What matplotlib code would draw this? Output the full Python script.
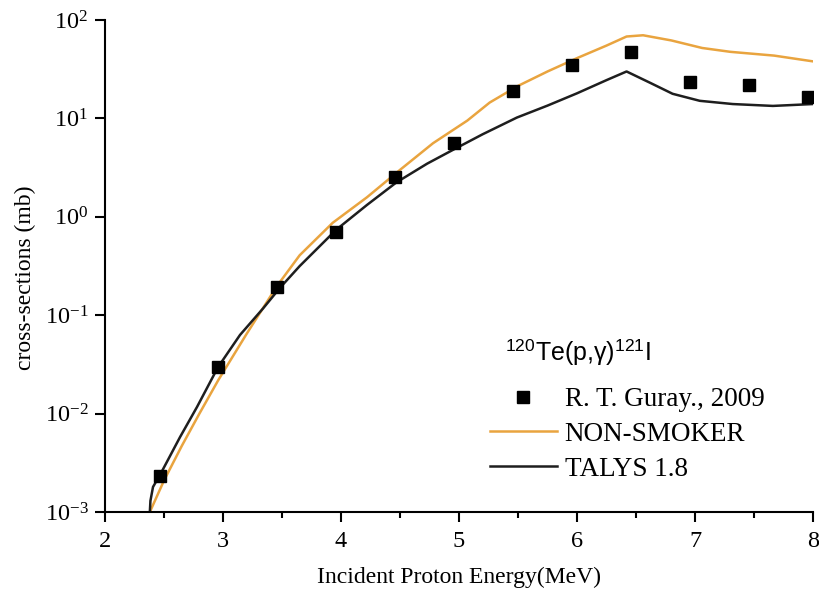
import numpy as np
import matplotlib.pyplot as plt

plt.rcParams['font.family'] = ['Liberation Serif', 'DejaVu Serif']
plt.rcParams['mathtext.fontset'] = 'custom'
plt.rcParams['mathtext.rm'] = 'Liberation Serif'
plt.rcParams['mathtext.it'] = 'Liberation Serif:italic'
plt.rcParams['mathtext.sf'] = 'Liberation Sans'

# measured points (R. T. Guray, 2009)
exp_e = [2.47, 2.96, 3.46, 3.96, 4.46, 4.96, 5.46, 5.96, 6.46, 6.96, 7.46, 7.96]
exp_cs = [0.0023, 0.030, 0.194, 0.70, 2.54, 5.6, 19.0, 35.0, 47.0, 23.4, 21.9, 16.5]

# NON-SMOKER curve
ns_e = [2.38, 2.5, 2.65, 2.8, 2.96, 3.2, 3.46, 3.65, 3.93, 4.22, 4.5, 4.78, 5.07,
        5.26, 5.5, 5.75, 6.0, 6.25, 6.42, 6.56, 6.8, 7.06, 7.3, 7.67, 8.0]
ns_cs = [0.001, 0.00209, 0.00468, 0.01, 0.0219, 0.0646, 0.20, 0.407, 0.87, 1.58,
         3.0, 5.6, 9.5, 14.5, 21.4, 30.0, 41.0, 55.0, 68.0, 70.0, 62.0, 52.0,
         47.5, 43.5, 38.0]

# TALYS 1.8 curve
ta_e = [2.38, 2.385, 2.407, 2.466, 2.636, 2.78, 2.958, 3.144, 3.339, 3.483, 3.65,
        3.96, 4.22, 4.47, 4.73, 4.95, 5.2, 5.49, 5.75, 6.0, 6.25, 6.42, 6.62,
        6.81, 7.04, 7.32, 7.66, 8.0]
ta_cs = [0.001, 0.0013, 0.0018, 0.00238, 0.00578, 0.0117, 0.0297, 0.063, 0.117,
         0.19, 0.316, 0.74, 1.32, 2.24, 3.47, 4.8, 6.9, 10.2, 13.5, 18.0, 24.5,
         30.0, 23.0, 17.8, 15.1, 14.0, 13.4, 14.0]

fig = plt.figure(figsize=(8.19, 5.96), dpi=100)
ax = fig.add_axes([0.1282, 0.1409, 0.8645, 0.8255])

ax.plot(exp_e, exp_cs, 's', color='black', markersize=8.5, label='R. T. Guray., 2009', zorder=3)
ax.plot(ns_e, ns_cs, '-', color='#E9A43F', lw=1.8, label='NON-SMOKER')
ax.plot(ta_e, ta_cs, '-', color='#1e1e1e', lw=1.8, label='TALYS 1.8')

ax.set_yscale('log')
ax.set_xlim(2, 8)
ax.set_ylim(1e-3, 1e2)
ax.set_xticks([2, 3, 4, 5, 6, 7, 8])
ax.set_xticks(np.arange(2.5, 8, 1.0), minor=True)
ax.yaxis.set_minor_locator(plt.NullLocator())

for s in ['top', 'right']:
    ax.spines[s].set_visible(False)
for s in ['left', 'bottom']:
    ax.spines[s].set_linewidth(1.5)
ax.tick_params(which='major', length=7, width=1.5, labelsize=17.5, direction='out')
ax.tick_params(axis='x', which='major', pad=7)
ax.tick_params(axis='y', which='major', pad=5)
ax.tick_params(which='minor', length=4, width=1.5, direction='out')

ax.set_xlabel('Incident Proton Energy(MeV)', fontsize=17, labelpad=10)
ax.set_ylabel('cross-sections (mb)', fontsize=17)
ax.yaxis.set_label_coords(-0.098, 0.476)

ax.text(0.565, 0.325, r'$^{\mathsf{120}}$Te(p,γ)$^{\mathsf{121}}$I', transform=ax.transAxes,
        family='Liberation Sans', fontsize=18, va='center', ha='left')

leg = ax.legend(loc='center left', bbox_to_anchor=(0.5438, 0.158), frameon=False,
                fontsize=19.5, handlelength=2.46, handletextpad=0.3, labelspacing=0.36,
                borderpad=0, borderaxespad=0)

fig.savefig('out.png', dpi=100)
